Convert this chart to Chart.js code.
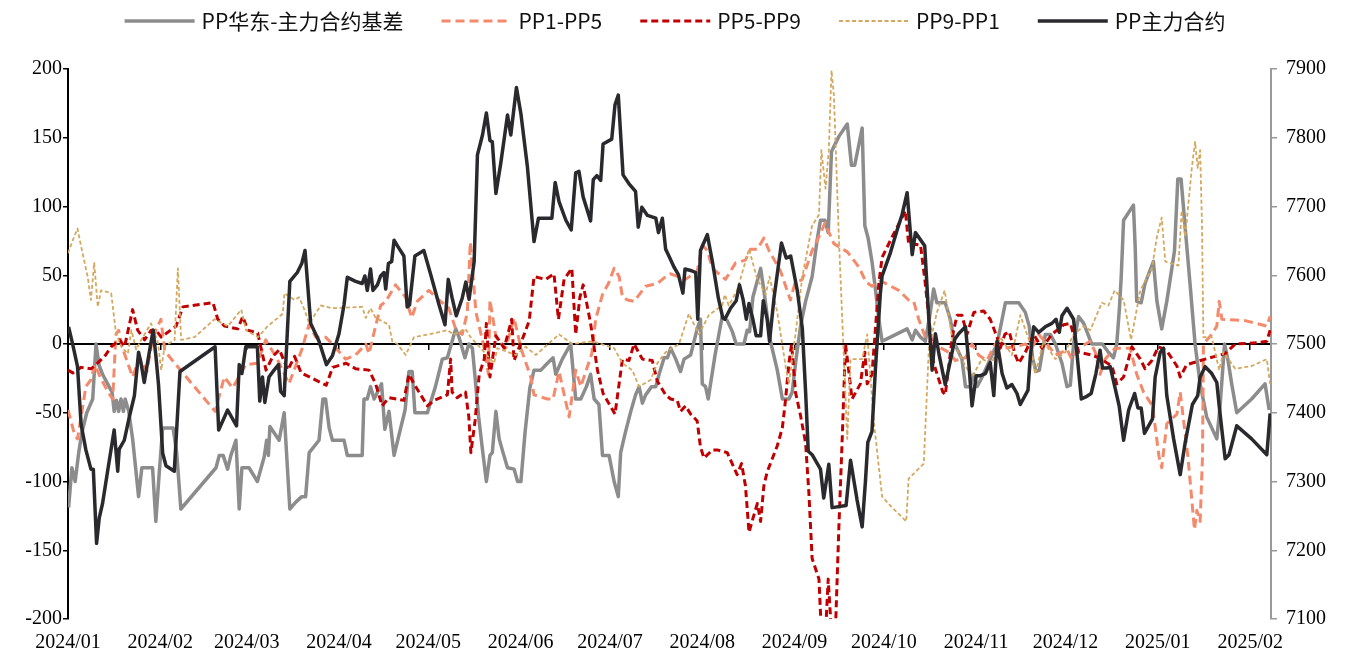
<!DOCTYPE html>
<html><head><meta charset="utf-8">
<script src="https://cdn.jsdelivr.net/npm/chart.js@4/dist/chart.umd.min.js"></script>
<style>html,body{margin:0;padding:0;background:#fff;}canvas{display:block;}</style>
</head><body>
<canvas id="c" width="1349" height="657"></canvas>
<script>
// x values: days since 2024-01-01
const tickLabels = ['2024/01','2024/02','2024/03','2024/04','2024/05','2024/06','2024/07','2024/08','2024/09','2024/10','2024/11','2024/12','2025/01','2025/02'];
const tickDates = ['2024-01-01','2024-02-01','2024-03-01','2024-04-01','2024-05-01','2024-06-01','2024-07-01','2024-08-01','2024-09-01','2024-10-01','2024-11-01','2024-12-01','2025-01-01','2025-02-01'];
const seriesNames = ['PP华东-主力合约基差','PP1-PP5','PP5-PP9','PP9-PP1','PP主力合约'];

const basisDays = [0.2,1.3,2.4,3.6,4.7,6.3,8.3,9.4,10.5,11.6,13.3,14.8,15.5,16.3,17.0,17.8,18.6,19.2,20.4,21.7,22.8,23.7,24.8,28.4,29.5,30.6,31.8,35.3,36.5,37.9,49.7,50.8,52.1,53.6,54.7,56.4,57.5,58.4,60.8,63.6,65.9,66.7,67.3,67.8,70.9,72.6,74.5,76.5,78.5,79.8,81.0,84.3,85.6,86.5,87.7,88.8,92.7,93.8,98.8,99.4,100.5,101.6,102.8,105.3,106.4,107.8,109.5,113.2,114.5,115.6,116.5,120.7,123.4,125.7,127.4,130.2,131.3,133.3,134.6,135.8,136.7,137.9,139.2,140.5,141.7,142.5,143.7,144.8,146.1,147.6,149.8,151.0,152.1,153.5,155.1,156.5,158.8,161.0,162.9,163.8,166.0,168.8,170.5,172.2,174.1,175.5,176.7,178.3,179.5,181.7,183.4,184.8,185.6,187.1,189.0,190.6,191.8,192.9,194.0,196.0,197.4,198.5,200.2,201.3,202.4,204.1,205.7,206.9,209.1,211.3,212.4,213.0,214.1,215.0,217.3,219.7,221.4,223.1,224.4,227.0,228.1,228.9,230.0,232.6,233.7,235.9,238.2,239.9,242.1,243.2,244.5,246.0,247.7,249.9,251.6,252.7,254.2,255.3,256.4,258.9,261.7,263.1,264.2,266.7,267.6,268.7,270.0,271.2,272.3,273.4,276.2,281.8,283.5,284.6,286.3,287.9,289.6,290.7,291.8,294.6,296.3,297.8,300.2,301.4,303.0,304.2,305.3,307.0,309.7,312.0,313.7,314.8,319.3,321.5,322.8,324.0,325.1,326.2,328.2,329.9,331.6,333.8,335.5,336.6,337.7,339.4,341.1,343.8,345.5,347.4,349.4,351.1,352.2,353.1,353.7,354.5,357.8,358.4,358.9,360.4,361.7,364.5,365.7,367.3,369.0,370.7,371.6,372.7,373.8,375.2,376.8,378.5,380.2,382.4,384.1,385.8,386.9,388.4,389.5,390.8,392.5,397.5,402.0,403.4];
const basisVals = [-119,-90,-100,-79,-64,-50,-40,0,-16,-22,-29,-35,-49,-41,-49,-40,-49,-40,-49,-69,-92,-111,-90,-90,-129,-95,-61,-61,-79,-120,-90,-81,-81,-91,-81,-70,-120,-90,-90,-100,-82,-70,-81,-60,-70,-50,-120,-115,-111,-111,-79,-70,-40,-40,-61,-70,-70,-81,-81,-40,-40,-31,-40,-29,-62,-49,-81,-48,-20,-20,-50,-50,-31,-11,-10,11,5,-10,0,-3,-24,-53,-77,-100,-81,-79,-49,-69,-79,-90,-91,-100,-100,-64,-32,-19,-19,-14,-10,-22,-11,0,-40,-40,-31,-22,-40,-44,-81,-81,-100,-111,-79,-65,-49,-37,-31,-43,-37,-31,-31,-22,-10,-10,-3,-11,-20,-11,-8,11,18,-29,-31,-40,-8,20,17,9,0,0,10,9,34,55,39,2,-19,-40,-40,-35,-11,13,31,49,76,90,90,81,140,151,160,130,130,157,86,77,60,39,18,2,5,11,3,10,5,2,23,40,30,30,18,0,-11,-31,-31,-22,-31,-24,-11,0,18,30,30,23,13,-11,-20,-19,7,7,0,-14,-31,-30,0,20,15,0,0,0,-6,-10,0,26,49,90,101,70,31,30,44,60,31,11,31,55,68,120,120,84,44,0,-29,-53,-61,-69,-45,0,-11,-29,-50,-40,-29,-48];

const s15Days = [0,2.1,3.2,4.4,6.0,7.7,9.0,11.0,13.5,15.0,16.1,17.0,18.3,21.7,24.0,26.5,28.5,31.2,32.5,35.1,49.4,52.5,55.3,59.7,63.6,66.4,70.3,74.2,78.7,80.9,83.2,86.5,88.8,93.2,96.6,100.0,101.1,103.3,105.0,106.7,110.0,113.4,115.4,117.3,121.2,124.6,127.9,130.2,132.4,134.1,135.1,137.0,139.8,141.2,141.7,143.7,147.0,149.8,152.1,155.4,156.5,161.0,162.9,164.9,168.3,170.5,172.2,175.9,177.2,179.5,181.5,183.4,185.1,186.2,187.9,190.1,194.0,197.9,200.7,202.4,207.4,211.3,213.0,214.7,216.4,220.8,224.2,227.5,229.2,231.5,233.7,235.4,239.3,242.6,244.1,246.6,249.9,252.2,254.2,257.2,261.7,265.6,268.0,270.0,272.8,279.0,282.3,284.0,285.7,287.9,290.2,292.4,295.8,298.0,301.4,303.6,305.8,308.6,311.4,314.8,318.1,321.5,323.7,326.0,328.8,331.6,333.8,335.5,337.1,339.4,343.3,345.0,346.6,348.3,351.7,356.7,358.9,361.2,364.2,366.4,367.3,369.0,372.4,373.5,376.1,378.3,379.1,380.2,381.0,381.3,384.1,385.8,386.6,387.5,395.3,402.6,403.7];
const s15Vals = [-48,-65,-69,-53,-31,-26,-15,-25,-35,-40,7,10,-3,-24,-10,-20,5,18,-5,-12,-49,-24,-32,-15,-14,3,-11,-29,-3,14,5,5,0,-11,-8,0,-7,13,28,31,43,34,19,31,39,32,26,11,7,23,74,23,-3,-22,32,5,-3,19,-3,-24,-37,-40,-40,-20,-53,-19,-31,-7,18,36,44,55,49,34,32,31,42,44,49,51,47,53,72,68,55,47,59,61,69,69,77,68,53,32,44,47,68,78,88,73,67,56,45,42,46,39,32,31,18,5,0,-2,-6,-12,-10,0,-8,-12,0,-3,-2,0,-3,7,0,-8,-6,-4,-11,-3,2,-6,-22,-11,-3,-3,-22,-35,-45,-82,-90,-58,-51,-35,-82,-135,-121,-129,-82,0,7,13,31,18,17,13,20];

const s59Days = [0,1.6,4.4,7.8,12.3,14.5,17.3,19.0,21.7,23.4,25.7,27.9,29.6,31.3,36.3,38.6,48.7,50.3,52.6,57.0,58.7,60.4,63.7,66.5,68.8,71.0,73.8,76.1,78.3,83.9,86.7,88.9,93.4,96.6,101.1,103.3,105.5,107.8,112.8,114.5,116.2,120.7,122.9,127.4,128.5,129.0,130.7,133.5,134.6,135.3,136.7,138.1,139.8,140.5,141.7,143.7,146.5,149.0,149.8,153.2,154.9,156.5,160.4,163.2,164.7,166.6,169.2,170.5,171.9,173.0,175.5,177.8,179.7,183.7,186.2,188.4,190.1,192.9,196.2,197.9,200.7,202.4,204.6,205.7,207.4,209.1,211.3,212.4,213.6,216.4,218.0,221.4,224.7,226.2,227.5,228.7,230.0,231.5,232.6,233.7,234.8,238.2,239.9,241.0,242.1,243.0,244.3,246.0,247.7,248.8,249.9,252.2,253.0,254.4,255.3,256.4,257.7,258.9,260.0,261.1,262.0,263.3,266.1,267.6,268.4,270.0,272.3,273.4,276.8,280.1,281.2,282.3,286.3,287.9,290.7,293.8,294.6,297.1,298.6,300.2,301.9,304.2,307.5,309.7,312.0,313.1,314.6,316.1,318.1,319.3,321.5,324.3,327.1,330.4,334.4,336.6,339.4,343.8,346.1,350.6,352.2,354.5,357.3,360.1,361.7,364.0,366.2,369.0,372.4,373.5,375.7,381.9,388.6,392.0,399.8,402.6,403.7];
const s59Vals = [-19,-21,-17,-18,-9,-2,3,-2,25,10,3,10,10,5,13,27,30,18,13,11,20,10,8,-19,-9,-4,-19,-9,-21,-27,-30,-17,-14,-18,-19,-29,-45,-39,-41,-22,-29,-45,-41,-37,-11,-35,-39,-35,-53,-79,-56,-22,-11,15,-24,6,-3,18,-12,7,17,49,47,51,18,47,55,7,34,43,15,-19,-36,-51,-11,-12,0,-11,-12,-27,-37,-40,-41,-49,-45,-51,-56,-75,-83,-77,-77,-79,-95,-87,-103,-137,-127,-116,-129,-103,-93,-74,-61,-40,-14,0,-35,-52,-72,-108,-156,-171,-210,-210,-171,-210,-210,-132,-69,0,-16,-40,-29,-6,-29,-22,44,63,78,92,97,73,72,44,-14,-35,-37,7,21,21,7,23,24,18,5,-3,7,9,-8,-14,-6,7,-3,7,14,15,-6,-8,-10,-16,-29,-24,-2,-11,-18,-12,-2,-5,-16,-24,-15,-11,-7,0,1,2,10];

const s91Days = [0,1.7,3.2,4.4,6.6,7.7,8.8,10.0,11.1,14.5,16.1,17.9,20.1,21.3,22.9,24.6,27.9,30.2,31.3,32.4,35.8,36.9,38.0,42.5,49.2,53.7,58.2,59.8,63.8,67.1,72.1,72.7,76.1,77.6,79.4,81.0,84.9,88.8,98.8,100.0,101.6,103.3,107.8,108.9,110.6,113.4,116.2,121.2,127.4,129.6,133.5,135.2,138.6,143.1,144.2,150.4,153.7,157.1,164.9,169.4,176.1,183.4,186.2,189.5,191.8,195.7,197.9,200.7,205.2,208.5,211.9,215.2,219.7,220.6,221.9,224.7,228.7,231.5,234.3,235.6,238.2,241.2,242.1,244.3,246.6,249.9,252.2,253.0,254.4,255.5,256.4,257.2,258.9,261.7,262.8,266.7,268.4,270.6,273.4,276.8,281.5,282.3,287.4,289.1,291.8,294.4,297.1,301.4,303.6,306.9,310.3,313.1,317.0,319.8,323.2,324.8,327.6,331.6,334.9,337.7,341.1,343.3,347.2,349.4,351.5,354.5,357.0,360.1,364.0,365.7,367.3,368.5,372.9,374.0,375.2,377.4,378.5,379.4,380.2,380.8,381.3,384.1,386.6,388.0,392.0,397.5,402.6,403.7];
const s91Vals = [66,76,84,71,49,32,59,27,39,37,8,-2,-7,10,-4,3,15,1,-19,-2,3,55,3,5,18,13,25,10,5,13,22,37,32,34,25,15,28,26,27,19,26,19,14,2,0,-8,5,7,10,7,11,5,-3,-14,-3,-8,-2,-8,7,0,2,-3,-14,-19,-31,-26,-14,-6,0,22,7,21,28,36,28,39,69,47,36,49,23,-19,-29,7,49,86,94,141,113,141,199,181,76,-69,-11,-11,7,-56,-111,-119,-129,-98,-87,-3,23,39,2,-16,-24,-11,-14,5,-8,21,0,-22,2,-11,-6,7,13,10,30,28,39,32,3,39,55,78,92,60,57,97,78,128,147,128,141,89,5,5,-19,-6,-18,-16,-11,-29];

const priceDays = [0.2,1.6,3.2,4.4,6.0,7.7,8.5,9.6,10.5,11.6,13.3,15.5,16.7,17.2,18.9,20.6,22.3,23.7,24.5,25.6,27.3,28.6,29.5,30.4,31.8,32.9,35.7,37.6,49.4,50.6,53.6,56.6,57.5,58.4,59.7,63.6,64.4,65.3,66.1,67.5,69.2,70.7,71.4,72.6,74.5,77.0,78.5,79.6,81.5,84.3,86.8,88.8,91.0,92.7,93.8,96.6,98.8,99.7,100.5,101.6,102.4,103.9,105.0,106.1,106.7,107.6,108.7,109.5,110.9,112.8,113.9,114.7,116.5,119.5,121.8,124.6,126.6,127.7,129.0,130.4,132.4,133.6,134.7,136.4,137.5,139.2,140.5,141.7,142.5,143.7,145.3,146.5,147.6,148.7,150.6,152.1,154.3,156.5,158.0,162.5,163.6,164.9,167.2,169.0,170.5,171.6,173.0,175.5,176.4,177.6,178.9,179.7,182.6,183.7,184.8,186.4,188.4,190.6,191.5,192.7,194.6,197.4,198.3,199.6,200.7,201.8,203.5,205.0,206.5,207.2,209.1,210.8,211.5,212.4,214.7,216.4,218.4,219.9,220.6,222.5,224.4,225.5,226.7,227.8,228.7,230.0,231.1,232.6,233.5,234.8,235.6,237.1,239.6,241.2,242.7,244.9,246.6,247.7,248.6,249.9,252.7,253.8,255.5,256.6,261.3,262.8,265.0,266.7,267.8,268.6,270.0,271.2,272.8,273.4,276.2,278.4,280.1,281.8,283.5,284.6,287.7,289.1,290.2,291.3,292.6,294.6,296.3,297.8,299.1,301.4,302.5,303.6,305.0,306.4,308.1,309.7,310.9,312.0,313.7,315.3,317.0,318.7,319.8,322.4,323.2,324.3,326.0,328.2,330.4,331.8,332.9,333.8,335.5,337.7,338.8,340.3,341.8,343.6,345.2,346.6,347.4,348.9,350.0,351.9,353.0,354.5,356.2,358.2,359.3,360.4,361.5,362.9,364.2,365.1,366.8,367.9,369.0,371.3,373.5,375.2,377.6,379.4,380.2,381.9,384.1,385.8,386.6,388.6,389.9,392.5,397.5,402.6,403.7];
const priceVals = [7525,7499,7467,7383,7346,7318,7318,7210,7247,7268,7315,7375,7315,7347,7360,7394,7425,7488,7473,7444,7488,7520,7483,7441,7341,7323,7315,7460,7496,7375,7404,7381,7470,7457,7496,7496,7417,7452,7415,7452,7462,7470,7431,7425,7591,7604,7617,7636,7530,7504,7470,7483,7515,7557,7597,7591,7588,7599,7578,7609,7578,7586,7599,7604,7580,7617,7620,7651,7641,7628,7554,7557,7628,7636,7601,7557,7528,7594,7567,7541,7567,7590,7565,7620,7775,7804,7836,7796,7794,7719,7762,7799,7833,7804,7873,7835,7757,7649,7683,7683,7735,7707,7680,7666,7749,7751,7714,7679,7739,7745,7738,7791,7798,7848,7862,7746,7733,7722,7670,7699,7687,7683,7662,7683,7638,7628,7612,7601,7574,7609,7607,7604,7536,7636,7659,7620,7567,7538,7536,7552,7563,7586,7565,7536,7559,7536,7512,7512,7563,7536,7504,7567,7647,7625,7628,7578,7523,7431,7344,7339,7318,7276,7325,7262,7265,7331,7273,7234,7300,7357,7373,7467,7573,7599,7633,7665,7688,7720,7630,7662,7643,7536,7462,7515,7483,7441,7475,7507,7515,7525,7473,7410,7454,7454,7457,7473,7425,7504,7457,7436,7441,7428,7412,7433,7483,7525,7517,7525,7530,7536,7517,7541,7552,7536,7488,7420,7423,7428,7457,7491,7465,7465,7467,7431,7410,7360,7404,7428,7407,7407,7370,7381,7391,7452,7488,7494,7425,7362,7310,7357,7412,7425,7452,7467,7457,7444,7410,7333,7339,7381,7362,7339,7399];

const DAY0 = Date.UTC(2024,0,1);
const tickDays = tickDates.map(s => { const [y,m,d] = s.split('-').map(Number); return (Date.UTC(y,m-1,d) - DAY0) / 86400000; });
const pts = (xs, ys) => xs.map((x, i) => ({x, y: ys[i]}));
const serif = {family: "'Liberation Serif', 'Times New Roman', serif", size: 20};

const datasets = [
  {label: seriesNames[0], data: pts(basisDays, basisVals), yAxisID: 'y', borderColor: '#8c8c8c', borderWidth: 3.5, order: 5},
  {label: seriesNames[1], data: pts(s15Days, s15Vals), yAxisID: 'y', borderColor: '#f4896b', borderWidth: 3, borderDash: [9,5], order: 4},
  {label: seriesNames[2], data: pts(s59Days, s59Vals), yAxisID: 'y', borderColor: '#c00000', borderWidth: 3, borderDash: [7,4], order: 3},
  {label: seriesNames[3], data: pts(s91Days, s91Vals), yAxisID: 'y', borderColor: '#d4a85e', borderWidth: 1.8, borderDash: [4,2.5], order: 2},
  {label: seriesNames[4], data: pts(priceDays, priceVals), yAxisID: 'y1', borderColor: '#2a2a2e', borderWidth: 3.5, order: 1}
];
datasets.forEach(d => { d.pointRadius = 0; d.tension = 0; d.fill = false; d.borderJoinStyle = 'round'; d.xAxisID = 'x'; });

const monthTicks = scale => { scale.ticks = tickDays.map(v => ({value: v})); };

const legendPlugin = {
  id: 'topLegend',
  afterDraw(chart) {
    const ctx = chart.ctx;
    const font = "21px 'Noto Sans CJK SC', 'Noto Sans', sans-serif";
    const lineLen = 70, gapText = 7, gapItem = 38, cy = 21;
    ctx.save();
    ctx.font = font;
    const widths = chart.data.datasets.map(d => lineLen + gapText + ctx.measureText(d.label).width);
    const total = widths.reduce((a, b) => a + b, 0) + gapItem * (widths.length - 1);
    let x = 675 - total / 2;
    chart.data.datasets.forEach((d, i) => {
      ctx.beginPath();
      ctx.strokeStyle = d.borderColor;
      ctx.lineWidth = d.borderWidth;
      ctx.setLineDash(d.borderDash || []);
      ctx.moveTo(x, cy); ctx.lineTo(x + lineLen, cy);
      ctx.stroke();
      ctx.setLineDash([]);
      ctx.fillStyle = '#111';
      ctx.textBaseline = 'middle';
      ctx.textAlign = 'left';
      ctx.fillText(d.label, x + lineLen + gapText, cy);
      x += widths[i] + gapItem;
    });
    ctx.restore();
  }
};

new Chart(document.getElementById('c'), {
  type: 'line',
  data: {datasets},
  options: {
    responsive: false, animation: false, devicePixelRatio: 1,
    layout: {padding: {top: 69, left: 0, right: 0, bottom: 0}},
    plugins: {legend: {display: false}, tooltip: {enabled: false}},
    scales: {
      x: {
        type: 'linear', position: 'bottom', min: 0, max: 404,
        afterBuildTicks: monthTicks,
        afterFit: s => { s.height = 38; },
        grid: {display: false}, border: {display: false},
        ticks: {font: serif, color: '#000', padding: 4, maxRotation: 0, autoSkip: false,
          callback: (v, i) => tickLabels[i]}
      },
      x2: {
        type: 'linear', position: {y: 0}, min: 0, max: 404,
        afterBuildTicks: monthTicks,
        afterFit: s => { s.height = 0; },
        grid: {drawOnChartArea: false, drawTicks: true, tickLength: 5, color: '#000', lineWidth: 1.5},
        border: {display: true, color: '#000', width: 2},
        ticks: {display: false}
      },
      y: {
        position: 'left', min: -200, max: 200,
        afterFit: s => { s.width = 68; },
        ticks: {stepSize: 50, font: serif, color: '#000', padding: 1, callback: v => String(v)},
        grid: {drawOnChartArea: false, drawTicks: true, tickLength: 5, color: '#000', lineWidth: 1.5},
        border: {display: true, color: '#000', width: 2}
      },
      y1: {
        position: 'right', min: 7100, max: 7900,
        afterFit: s => { s.width = 78; },
        ticks: {stepSize: 100, font: serif, color: '#000', padding: 9, callback: v => String(v)},
        grid: {drawOnChartArea: false, drawTicks: true, tickLength: 6, color: '#999', lineWidth: 1.5},
        border: {display: true, color: '#999', width: 2}
      }
    }
  },
  plugins: [legendPlugin]
});
</script>
</body></html>
